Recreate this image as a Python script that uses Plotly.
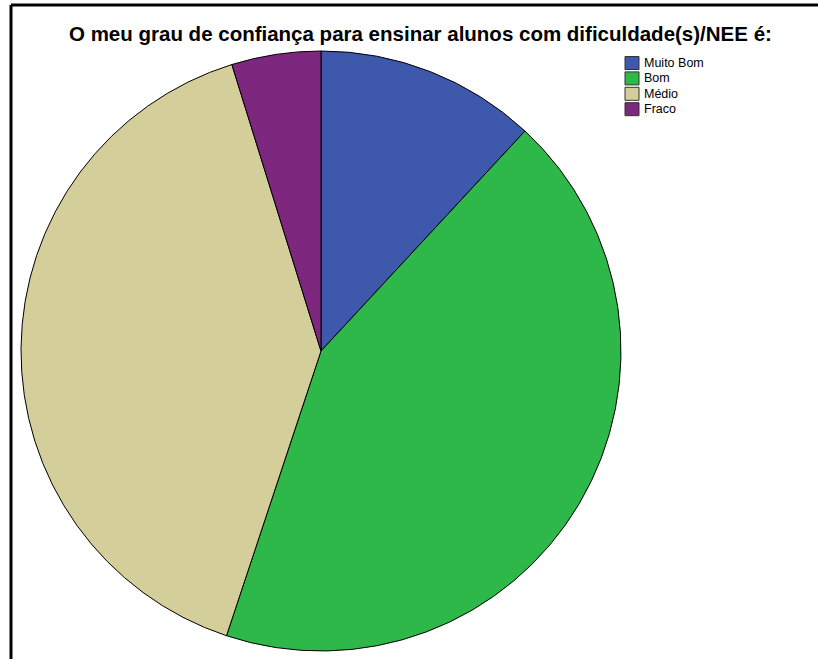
import plotly.graph_objects as go

categories = ["Muito Bom", "Bom", "Médio", "Fraco"]
percents = [11.9, 43.2, 40.1, 4.8]
colors = ["#3E58AC", "#2EB84A", "#D4CE9A", "#7D287E"]

W, H = 818, 659
cx, cy, r = 321, 351, 300

fig = go.Figure(go.Pie(
    labels=categories,
    values=percents,
    sort=False,
    direction="clockwise",
    rotation=0,
    textinfo="none",
    hoverinfo="label+percent",
    showlegend=False,
    marker=dict(colors=colors, line=dict(color="#000000", width=1)),
    domain=dict(x=[(cx - r) / W, (cx + r) / W], y=[(H - cy - r) / H, (H - cy + r) / H]),
))

FONT = "Arial, Liberation Sans, sans-serif"

annotations = [dict(
    text="<b>O meu grau de confiança para ensinar alunos com dificuldade(s)/NEE é:</b>",
    x=421 / W, y=1 - 34 / H, xref="paper", yref="paper",
    xanchor="center", yanchor="middle", showarrow=False,
    font=dict(size=20.5, family=FONT, color="#000000"),
)]

shapes = [
    dict(type="line", xref="paper", yref="paper", x0=11 / W, x1=1, y0=1 - 5 / H, y1=1 - 5 / H,
         line=dict(color="#000000", width=3)),
    dict(type="line", xref="paper", yref="paper", x0=11 / W, x1=11 / W, y0=0, y1=1 - 5 / H,
         line=dict(color="#000000", width=3)),
]

# custom legend (SPSS-like compact layout)
lx0, lx1, ly0, dy, bh = 625, 639, 63, 15.4, 13
for i, (lab, col) in enumerate(zip(categories, colors)):
    yc = ly0 + i * dy
    shapes.append(dict(type="rect", xref="paper", yref="paper",
                       x0=lx0 / W, x1=lx1 / W, y0=1 - (yc - bh / 2) / H, y1=1 - (yc + bh / 2) / H,
                       fillcolor=col, line=dict(color="#333333", width=1)))
    annotations.append(dict(text=lab, x=(lx1 + 3) / W, y=1 - yc / H, xref="paper", yref="paper",
                            xanchor="left", yanchor="middle", showarrow=False,
                            font=dict(size=12.5, family=FONT, color="#000000")))

fig.update_layout(
    width=W, height=H,
    margin=dict(l=0, r=0, t=0, b=0),
    paper_bgcolor="white",
    plot_bgcolor="white",
    font=dict(family=FONT, color="#000000"),
    annotations=annotations,
    shapes=shapes,
)

fig.write_html("out.html", config={"displayModeBar": False},
               post_script="document.body.style.margin='0';")
